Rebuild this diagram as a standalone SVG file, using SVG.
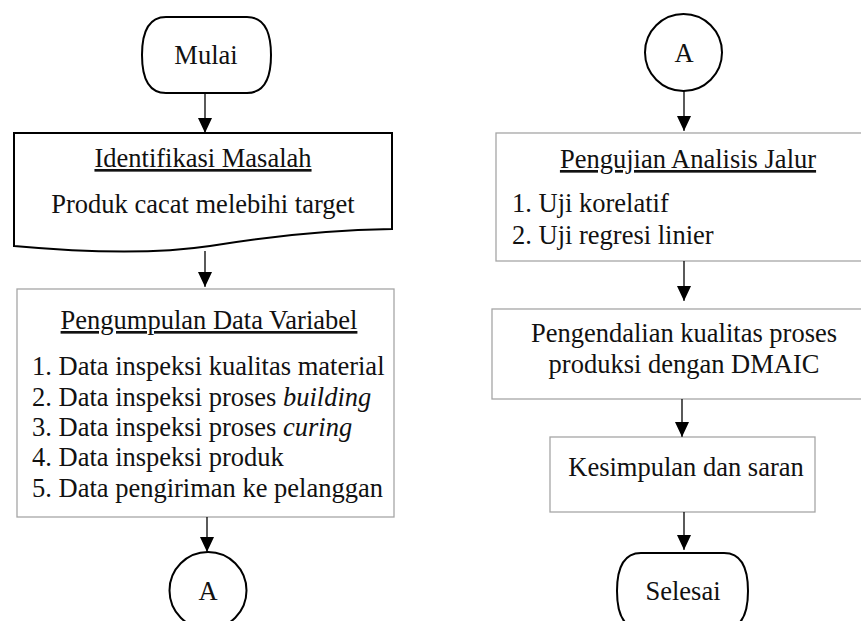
<svg xmlns="http://www.w3.org/2000/svg" width="861" height="621" viewBox="0 0 861 621">
<defs>
<marker id="ah" markerUnits="userSpaceOnUse" markerWidth="14" markerHeight="16" viewBox="0 0 14 16" refX="15" refY="7" orient="auto">
<path d="M0,0 L15,7 L0,14 Z" fill="#000"/>
</marker>
</defs>
<style>
text{font-family:"Liberation Serif","Times New Roman",serif;font-size:26.5px;fill:#111}
.c{text-anchor:middle}
.u{text-decoration:underline}
.term{fill:#fff;stroke:#000;stroke-width:2}
.box{fill:#fff;stroke:#a6a6a6;stroke-width:1.3}
.conn line{stroke:#000;stroke-width:1.3;marker-end:url(#ah)}
</style>
<rect width="861" height="621" fill="#fff"/>
<g id="mulai">
<path class="term" d="M166,17 H247 Q271,17 271,55 Q271,93 247,93 H166 Q142,93 142,55 Q142,17 166,17 Z"/>
<text class="c" x="206" y="64">Mulai</text>
</g>
<g id="identifikasi">
<path class="term" d="M14,133 H392 V229 C330,230 270,236 210,246 C150,255 80,252 14,246 Z"/>
<text class="c u" x="203" y="167">Identifikasi Masalah</text>
<text class="c" x="203" y="213">Produk cacat melebihi target</text>
</g>
<g id="pengumpulan">
<rect class="box" x="17" y="289" width="377" height="228"/>
<text class="c u" x="209" y="329">Pengumpulan Data Variabel</text>
<text x="32" y="375">1. Data inspeksi kualitas material</text>
<text x="32" y="406">2. Data inspeksi proses <tspan font-style="italic">building</tspan></text>
<text x="32" y="436">3. Data inspeksi proses <tspan font-style="italic">curing</tspan></text>
<text x="32" y="466">4. Data inspeksi produk</text>
<text x="32" y="497">5. Data pengiriman ke pelanggan</text>
</g>
<g id="a-out">
<circle class="term" cx="208" cy="590.5" r="38.5"/>
<text class="c" x="208" y="600">A</text>
</g>
<g id="a-in">
<circle class="term" cx="683.5" cy="52.5" r="38.5"/>
<text class="c" x="684" y="62">A</text>
</g>
<g id="pengujian">
<rect class="box" x="496" y="133" width="380" height="128"/>
<text class="c u" x="688" y="168">Pengujian Analisis Jalur</text>
<text x="512" y="212">1. Uji korelatif</text>
<text x="512" y="244">2. Uji regresi linier</text>
</g>
<g id="pengendalian">
<rect class="box" x="492" y="309" width="384" height="90"/>
<text class="c" x="684" y="342">Pengendalian kualitas proses</text>
<text class="c" x="684" y="373">produksi dengan DMAIC</text>
</g>
<g id="kesimpulan">
<rect class="box" x="550" y="437" width="265" height="75"/>
<text class="c" x="686" y="476">Kesimpulan dan saran</text>
</g>
<g id="selesai">
<path class="term" d="M641,553 H724 Q748,553 748,591 Q748,629 724,629 H641 Q617,629 617,591 Q617,553 641,553 Z"/>
<text class="c" x="683" y="600">Selesai</text>
</g>
<g id="connectors" class="conn">
<line x1="205" y1="93" x2="205" y2="133"/>
<line x1="205" y1="251" x2="205" y2="287"/>
<line x1="207" y1="517" x2="207" y2="552"/>
<line x1="684" y1="91" x2="684" y2="131"/>
<line x1="684" y1="261" x2="684" y2="301"/>
<line x1="682" y1="399" x2="682" y2="437"/>
<line x1="684" y1="512" x2="684" y2="550"/>
</g>
</svg>
